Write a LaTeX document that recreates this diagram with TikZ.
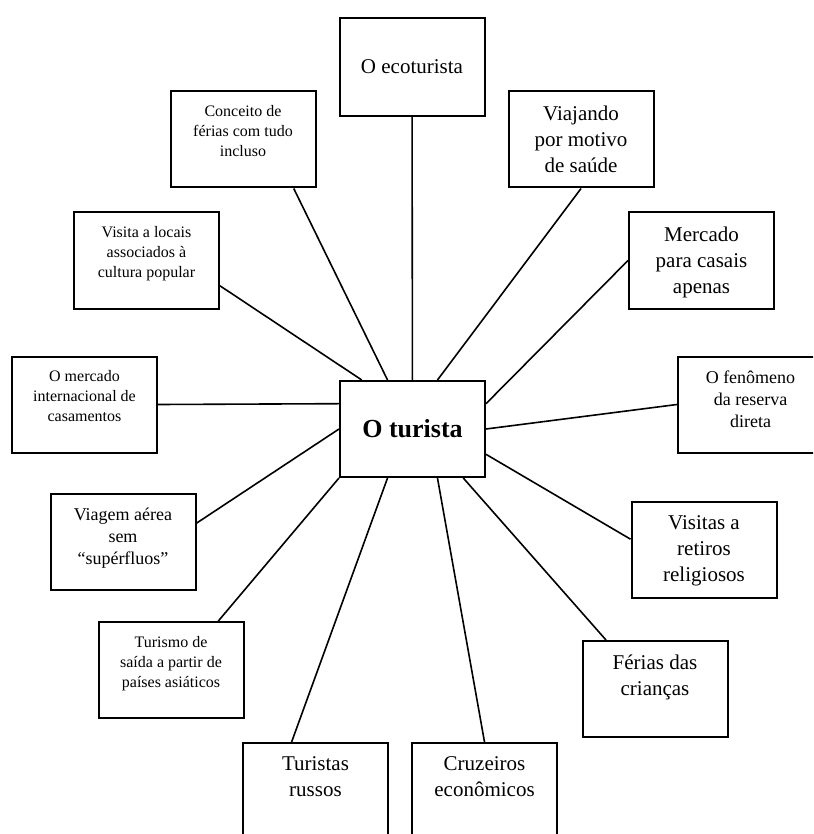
\documentclass[tikz,border=0pt]{standalone}
\usepackage{fontspec}
\setmainfont{Liberation Serif}
\usetikzlibrary{positioning}

\begin{document}
\begin{tikzpicture}[x=1pt, y=-1pt,
    box/.style={draw, line width=2pt, inner sep=0pt, fill=white,
        execute at begin node={\begin{minipage}[c][96pt][t]{145pt}\centering\vspace*{14pt}},
        execute at end node={\end{minipage}}},
    smallbox/.style={box, font=\fontsize{16}{20}\selectfont},
    midbox/.style={box, font=\fontsize{18}{22}\selectfont},
    bigbox/.style={box, font=\fontsize{21}{26}\selectfont},
    hub/.style={draw, line width=2pt, minimum width=145pt, minimum height=96pt, inner sep=0pt},
    link/.style={line width=1.6pt}
]
    \useasboundingbox (0,0) rectangle (813,834);
    \clip (0,0) rectangle (813,834);

    % Centre
    \node[hub, font=\fontsize{26}{30}\selectfont\bfseries] (turista) at (412.5,429) {O turista};

    % Upper half
    \node[hub, minimum height=98pt, font=\fontsize{21}{26}\selectfont] (eco) at (412,67) {O ecoturista};
    \node[smallbox] (conc) at (243,139.5) {Conceito de\\férias com tudo\\incluso};
    \node[bigbox] (viaj) at (581,139.5) {Viajando\\por motivo\\de saúde};
    \node[smallbox] (visita) at (146.5,260.5) {Visita a locais\\associados à\\cultura popular};
    \node[bigbox] (merc) at (701.5,260.5) {Mercado\\para casais\\apenas};
    \node[smallbox] (intl) at (84.5,404.5) {O mercado\\internacional de\\casamentos};
    \node[midbox] (fen) at (750.5,404.5) {O fenômeno\\da reserva\\direta};

    % Lower half
    \node[midbox] (viagem) at (123,541.5) {Viagem aérea\\sem\\“supérfluos”};
    \node[bigbox] (retiros) at (704,549.5) {Visitas a\\retiros\\religiosos};
    \node[smallbox] (saida) at (171,670) {Turismo de\\saída a partir de\\países asiáticos};
    \node[bigbox] (ferias) at (655,689) {Férias das\\crianças};
    \node[bigbox] (russos) at (315.5,791) {Turistas\\russos};
    \node[bigbox] (cruz) at (484.5,791) {Cruzeiros\\econômicos};

    % Spokes
    \draw[link] (eco) -- (turista);
    \draw[link] (conc.-44) -- (turista.117);
    \draw[link] (viaj.south) -- (turista.63);
    \draw[link] (visita.-19) -- (turista.136);
    \draw[link] (merc.west) -- (turista.19);
    \draw[link] (intl.east) -- (turista.161);
    \draw[link] (fen.west) -- (turista.east);
    \draw[link] (viagem.14) -- (turista.west);
    \draw[link] (retiros.172) -- (turista.-19);
    \draw[link] (saida.46) -- (turista.south west);
    \draw[link] (ferias.135) -- (turista.-44);
    \draw[link] (russos.116) -- (turista.-117);
    \draw[link] (cruz.north) -- (turista.-63);
\end{tikzpicture}
\end{document}
